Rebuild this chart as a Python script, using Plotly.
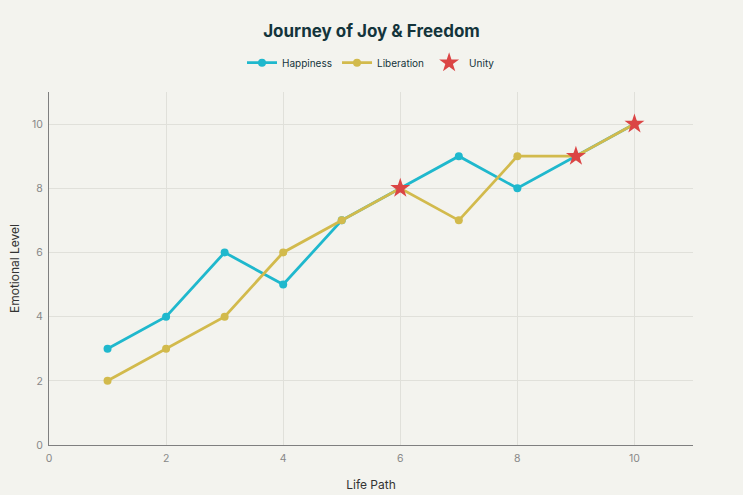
import plotly.graph_objects as go

life_path = [1, 2, 3, 4, 5, 6, 7, 8, 9, 10]
happiness = [3, 4, 6, 5, 7, 8, 9, 8, 9, 10]
liberation = [2, 3, 4, 6, 7, 8, 7, 9, 9, 10]
unity_x = [6, 9, 10]
unity_y = [8, 9, 10]

fig = go.Figure()
fig.add_trace(go.Scatter(x=life_path, y=happiness, mode="lines+markers", name="Happiness",
                         line=dict(color="#1FB8CD", width=2.8), marker=dict(size=8, color="#1FB8CD")))
fig.add_trace(go.Scatter(x=life_path, y=liberation, mode="lines+markers", name="Liberation",
                         line=dict(color="#D2BA4C", width=2.8), marker=dict(size=8, color="#D2BA4C")))
fig.add_trace(go.Scatter(x=unity_x, y=unity_y, mode="markers", name="Unity",
                         marker=dict(symbol="star", size=15, color="#DB4545")))

font_family = "Inter, Roboto, sans-serif"
fig.update_layout(
    width=743, height=495,
    paper_bgcolor="#F3F3EE", plot_bgcolor="#F3F3EE",
    font=dict(family=font_family, size=12, color="#13343B"),
    title=dict(text="<b>Journey of Joy & Freedom</b>", x=0.5, xanchor="center", y=0.937, yanchor="middle",
               font=dict(size=17, color="#13343B")),
    legend=dict(orientation="h", x=0.5, xanchor="center", y=1.083, yanchor="middle",
                font=dict(size=10), bgcolor="rgba(0,0,0,0)", itemwidth=30),
    margin=dict(l=49, r=50, t=92, b=50),
    xaxis=dict(title=dict(text="Life Path", font=dict(size=12, color="#333"), standoff=16), range=[0, 11],
               tickvals=[0, 2, 4, 6, 8, 10], showgrid=True, gridcolor="#E0E0DA", zeroline=False,
               showline=True, linecolor="#7F7F7F", linewidth=1.2, tickfont=dict(color="#888", size=10.5),
               ticks="", automargin=False, ticklabelstandoff=3),
    yaxis=dict(title=dict(text="Emotional Level", font=dict(size=12, color="#333"), standoff=9), range=[0, 11],
               tickvals=[0, 2, 4, 6, 8, 10], showgrid=True, gridcolor="#E0E0DA", zeroline=False,
               showline=True, linecolor="#7F7F7F", linewidth=1.2, tickfont=dict(color="#888", size=10.5),
               ticks="", automargin=False, ticklabelstandoff=3),
)
fig.write_html("out.html")
